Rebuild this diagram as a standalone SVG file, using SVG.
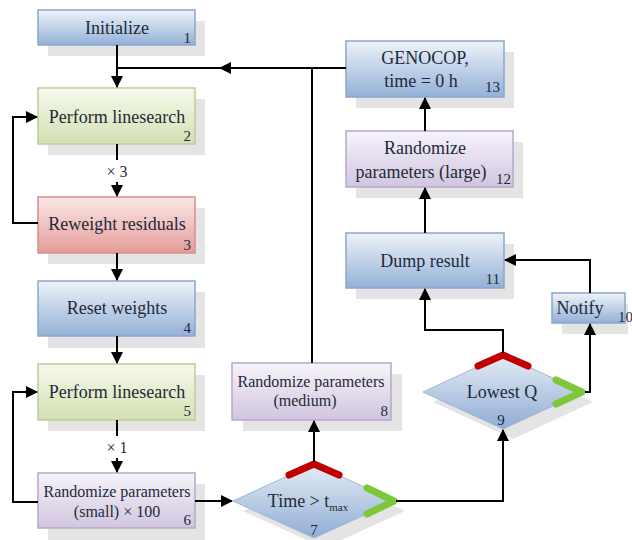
<svg xmlns="http://www.w3.org/2000/svg" width="632" height="540" viewBox="0 0 632 540">
<defs>
<linearGradient id="gBlue" x1="0" y1="0" x2="0" y2="1"><stop offset="0" stop-color="#eef3fa"/><stop offset="1" stop-color="#93b0d6"/></linearGradient>
<linearGradient id="gGreen" x1="0" y1="0" x2="0" y2="1"><stop offset="0" stop-color="#f6f9ec"/><stop offset="1" stop-color="#d3e1b3"/></linearGradient>
<linearGradient id="gRed" x1="0" y1="0" x2="0" y2="1"><stop offset="0" stop-color="#fbe8e7"/><stop offset="1" stop-color="#e39c9a"/></linearGradient>
<linearGradient id="gPurple" x1="0" y1="0" x2="0" y2="1"><stop offset="0" stop-color="#f7f4fa"/><stop offset="1" stop-color="#d1c5e0"/></linearGradient>
<linearGradient id="gDia" x1="0" y1="0" x2="0" y2="1"><stop offset="0" stop-color="#e6edf6"/><stop offset="1" stop-color="#8fadd4"/></linearGradient>
<marker id="arr" markerWidth="12" markerHeight="12" refX="11" refY="6" orient="auto" markerUnits="userSpaceOnUse"><path d="M0,0 L12,6 L0,12 z" fill="#000"/></marker>
<style>
.sh{fill:#e4e4e4}
.blue{fill:url(#gBlue);stroke:#8aa6cb;stroke-width:1.5}
.green{fill:url(#gGreen);stroke:#bccc9c;stroke-width:1.5}
.red{fill:url(#gRed);stroke:#d4908e;stroke-width:1.5}
.purple{fill:url(#gPurple);stroke:#b5a9c8;stroke-width:1.5}
.dia{fill:url(#gDia);stroke:#9db5d6;stroke-width:1}
.t{font-size:18px;fill:#1e2a38;text-anchor:middle}
.n{font-size:15px;fill:#1e2a38;text-anchor:end}
.c{fill:none;stroke:#000;stroke-width:2}
.rc{fill:none;stroke:#c00000;stroke-width:7;stroke-linecap:round;stroke-linejoin:round}
.gc{fill:none;stroke:#7ec63a;stroke-width:7;stroke-linecap:round;stroke-linejoin:round}
</style>
</defs>
<rect width="632" height="540" fill="#fff"/>
<g font-family="Liberation Serif, Times New Roman, DejaVu Serif, serif">

<g id="n1">
<rect class="sh" x="48" y="21" width="157" height="35"/>
<rect class="blue" x="38" y="10" width="157" height="35"/>
<text class="t" x="117" y="34">Initialize</text>
<text class="n" x="191" y="43">1</text>
</g>

<g id="n2">
<rect class="sh" x="48" y="99" width="157" height="56"/>
<rect class="green" x="38" y="88" width="157" height="56"/>
<text class="t" x="117" y="123">Perform linesearch</text>
<text class="n" x="191" y="141">2</text>
</g>

<g id="n3">
<rect class="sh" x="48" y="208" width="157" height="56"/>
<rect class="red" x="38" y="197" width="157" height="56"/>
<text class="t" x="117" y="230">Reweight residuals</text>
<text class="n" x="191" y="250">3</text>
</g>

<g id="n4">
<rect class="sh" x="48" y="292" width="157" height="56"/>
<rect class="blue" x="38" y="281" width="157" height="55"/>
<text class="t" x="117" y="314">Reset weights</text>
<text class="n" x="191" y="333">4</text>
</g>

<g id="n5">
<rect class="sh" x="48" y="375" width="157" height="56"/>
<rect class="green" x="38" y="364" width="157" height="56"/>
<text class="t" x="117" y="398">Perform linesearch</text>
<text class="n" x="191" y="416">5</text>
</g>

<g id="n6">
<rect class="sh" x="48" y="484" width="157" height="56"/>
<rect class="purple" x="38" y="473" width="157" height="55"/>
<text class="t" x="117" y="497" style="font-size:16px">Randomize parameters</text>
<text class="t" x="117" y="517" style="font-size:16px">(small) × 100</text>
<text class="n" x="191" y="525">6</text>
</g>

<g id="n7">
<polygon class="sh" points="243,511 324,474 405,511 324,548"/>
<polygon class="dia" points="233,501 314,464 395,501 314,538"/>
<polyline class="rc" points="289,475 314,464 339,475"/>
<polyline class="gc" points="367,488 394,501 367,514"/>
<text class="t" x="308" y="507">Time &gt; t<tspan style="font-size:11px" dy="4">max</tspan></text>
<text class="t" x="314" y="535" style="font-size:15px">7</text>
</g>

<g id="n8">
<rect class="sh" x="243" y="374" width="159" height="57"/>
<rect class="purple" x="232" y="363" width="159" height="57"/>
<text class="t" x="311" y="387" style="font-size:16px">Randomize parameters</text>
<text class="t" x="305" y="406" style="font-size:16px">(medium)</text>
<text class="n" x="388" y="416">8</text>
</g>

<g id="n9">
<polygon class="sh" points="433,402 513,365 593,402 513,439"/>
<polygon class="dia" points="423,392 503,355 583,392 503,429"/>
<polyline class="rc" points="478,366 503,355 528,366"/>
<polyline class="gc" points="556,380 582,392 556,404"/>
<text class="t" x="502" y="398">Lowest Q</text>
<text class="t" x="501" y="425" style="font-size:15px">9</text>
</g>

<g id="n10">
<rect class="sh" x="562" y="304" width="66" height="30"/>
<rect class="blue" x="552" y="293" width="73" height="30"/>
<text class="t" x="580" y="314">Notify</text>
<text class="n" x="633" y="322">10</text>
</g>

<g id="n11">
<rect class="sh" x="356" y="244" width="158" height="55"/>
<rect class="blue" x="346" y="233" width="158" height="55"/>
<text class="t" x="425" y="267">Dump result</text>
<text class="n" x="500" y="284">11</text>
</g>

<g id="n12">
<rect class="sh" x="356" y="142" width="167" height="56"/>
<rect class="purple" x="346" y="131" width="167" height="56"/>
<text class="t" x="425" y="154">Randomize</text>
<text class="t" x="421" y="178">parameters (large)</text>
<text class="n" x="511" y="184">12</text>
</g>

<g id="n13">
<rect class="sh" x="356" y="52" width="158" height="56"/>
<rect class="blue" x="346" y="41" width="158" height="56"/>
<text class="t" x="425" y="64">GENOCOP,</text>
<text class="t" x="421" y="87">time = 0 h</text>
<text class="n" x="500" y="92">13</text>
</g>

<g id="connectors">
<path class="c" d="M117,45 V87" marker-end="url(#arr)"/>
<path class="c" d="M346,68 H117"/>
<path class="c" d="M312,363 V68 H220" marker-end="url(#arr)"/>
<path class="c" d="M117,144 V160"/>
<path class="c" d="M117,182 V196" marker-end="url(#arr)"/>
<path class="c" d="M38,223 H13 V117 H37" marker-end="url(#arr)"/>
<path class="c" d="M117,253 V280" marker-end="url(#arr)"/>
<path class="c" d="M117,336 V363" marker-end="url(#arr)"/>
<path class="c" d="M117,420 V436"/>
<path class="c" d="M117,458 V472" marker-end="url(#arr)"/>
<path class="c" d="M38,502 H13 V392 H37" marker-end="url(#arr)"/>
<path class="c" d="M195,501 H232" marker-end="url(#arr)"/>
<path class="c" d="M314,462 V421" marker-end="url(#arr)"/>
<path class="c" d="M396,501 H503 V430" marker-end="url(#arr)"/>
<path class="c" d="M503,353 V330 H425 V289" marker-end="url(#arr)"/>
<path class="c" d="M585,392 H590 V324" marker-end="url(#arr)"/>
<path class="c" d="M590,293 V260 H505" marker-end="url(#arr)"/>
<path class="c" d="M425,233 V188" marker-end="url(#arr)"/>
<path class="c" d="M425,131 V98" marker-end="url(#arr)"/>
<text class="t" x="117" y="177" style="font-size:16px">× 3</text>
<text class="t" x="117" y="453" style="font-size:16px">× 1</text>
</g>
</g>
</svg>
